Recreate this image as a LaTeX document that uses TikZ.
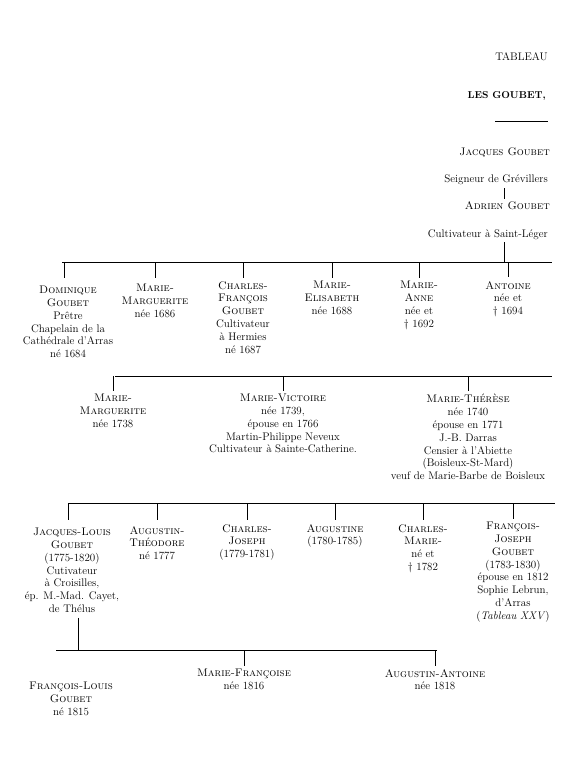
\documentclass[tikz,border=0pt]{standalone}
\usepackage{tikz}
\usetikzlibrary{positioning}

\begin{document}
\begin{tikzpicture}[x=1pt,y=-1pt,line width=0.5pt,
		person/.style={align=center, anchor=north, inner sep=0pt, font=\fontsize{11}{12.8}\selectfont},
		head/.style={anchor=east, inner sep=0pt, font=\fontsize{11}{12.8}\selectfont}]
		\useasboundingbox (0,0) rectangle (580,768);
		% titre
		\node[head] (tab) at (548,57) {TABLEAU};
		\node[head, font=\fontsize{10}{12}\selectfont\bfseries] (fam) at (546,96) {LES GOUBET,};
		\coordinate (rulel) at (495,121);
		\coordinate (ruler) at (548,121);
		\draw (rulel) -- (ruler);
		\node[head] (jq) at (550,152) {\textsc{Jacques Goubet}};
		\node[head] (seig) at (548,180) {Seigneur de Grévillers};
		\node[head] (adr) at (550,206) {\textsc{Adrien Goubet}};
		\node[head] (cult) at (548,235) {Cultivateur à Saint-Léger};
		\coordinate (stem) at (504,0);
		\draw[shorten <=3pt, shorten >=3pt] (seig.south -| stem) -- (adr.north -| stem);
		% 1re generation
		\coordinate (g1l) at (62,262);
		\coordinate (g1r) at (552,262);
		\draw[shorten <=2pt] (cult.south -| stem) -- (stem |- g1l);
		\draw (g1l) -- (g1r);
		\node[person] (dom) at (68,286) {\textsc{Dominique}\\\textsc{Goubet}\\Prêtre\\Chapelain de la\\Cathédrale d'Arras\\né 1684};
		\node[person] (mm1) at (155,284) {\textsc{Marie-}\\\textsc{Marguerite}\\née 1686};
		\node[person] (cf) at (243,281) {\textsc{Charles-}\\\textsc{François}\\\textsc{Goubet}\\Cultivateur\\à Hermies\\né 1687};
		\node[person] (me) at (332,281) {\textsc{Marie-}\\\textsc{Elisabeth}\\née 1688};
		\node[person] (ma) at (419,281) {\textsc{Marie-}\\\textsc{Anne}\\née et\\\textdagger{} 1692};
		\node[person] (ant) at (508,281) {\textsc{Antoine}\\née et\\\textdagger{} 1694};
		\draw ([xshift=-4pt]dom.north |- g1l) -- ++(0,16);
		\draw (mm1.north |- g1l) -- ++(0,16);
		\draw (cf.north |- g1l) -- ++(0,16);
		\draw (me.north |- g1l) -- ++(0,16);
		\draw (ma.north |- g1l) -- ++(0,16);
		\draw (ant.north |- g1l) -- ++(0,15);
		% 2e generation
		\coordinate (g2l) at (115,376);
		\coordinate (g2r) at (552,376);
		\draw (g2l) -- (g2r);
		\node[person] (mm2) at (113,394) {\textsc{Marie-}\\\textsc{Marguerite}\\née 1738};
		\node[person] (mv) at (283,394) {\textsc{Marie-Victoire}\\née 1739,\\épouse en 1766\\Martin-Philippe Neveux\\Cultivateur à Sainte-Catherine.};
		\node[person] (mt) at (468,394) {\textsc{Marie-Thérèse}\\née 1740\\épouse en 1771\\J.-B. Darras\\Censier à l'Abiette\\(Boisleux-St-Mard)\\veuf de Marie-Barbe de Boisleux};
		\draw (mm2.north |- g2l) -- ++(0,15);
		\draw (mv.north |- g2l) -- ++(0,15);
		\draw (mt.north |- g2l) -- ++(0,15);
		% 3e generation
		\coordinate (g3l) at (68,503);
		\coordinate (g3r) at (555,503);
		\draw (g3l) -- (g3r);
		\node[person] (jl) at (72,528) {\textsc{Jacques-Louis}\\\textsc{Goubet}\\(1775-1820)\\Cutivateur\\à Croisilles,\\ép. M.-Mad. Cayet,\\de Thélus};
		\node[person] (at) at (157,526) {\textsc{Augustin-}\\\textsc{Théodore}\\né 1777};
		\node[person] (cj) at (247,524) {\textsc{Charles-}\\\textsc{Joseph}\\(1779-1781)};
		\node[person] (aug) at (335,524) {\textsc{Augustine}\\(1780-1785)};
		\node[person] (cm) at (423,524) {\textsc{Charles-}\\\textsc{Marie-}\\né et\\\textdagger{} 1782};
		\node[person] (fj) at (513,522) {\textsc{François-}\\\textsc{Joseph}\\\textsc{Goubet}\\(1783-1830)\\épouse en 1812\\Sophie Lebrun,\\d'Arras\\(\textit{Tableau XXV})};
		\draw ([xshift=-4pt]jl.north |- g3l) -- ++(0,17);
		\draw (at.north |- g3l) -- ++(0,17);
		\draw (cj.north |- g3l) -- ++(0,17);
		\draw (aug.north |- g3l) -- ++(0,17);
		\draw (cm.north |- g3l) -- ++(0,17);
		\draw (fj.north |- g3l) -- ++(0,16);
		% 4e generation
		\coordinate (g4l) at (56,650);
		\coordinate (g4r) at (437,650);
		\coordinate (jldrop) at ([xshift=6pt, yshift=-5pt]jl.south);
		\draw (jldrop) -- (jldrop |- g4l);
		\draw (g4l) -- (g4r);
		\node[person] (fl) at (71,682) {\textsc{François-Louis}\\\textsc{Goubet}\\né 1815};
		\node[person] (mf) at (244,669) {\textsc{Marie-Françoise}\\née 1816};
		\node[person] (aa) at (435,669) {\textsc{Augustin-Antoine}\\née 1818};
		\draw (mf.north |- g4l) -- ++(0,16);
		\draw (aa.north |- g4l) -- ++(0,16);
	\end{tikzpicture}
\end{document}
